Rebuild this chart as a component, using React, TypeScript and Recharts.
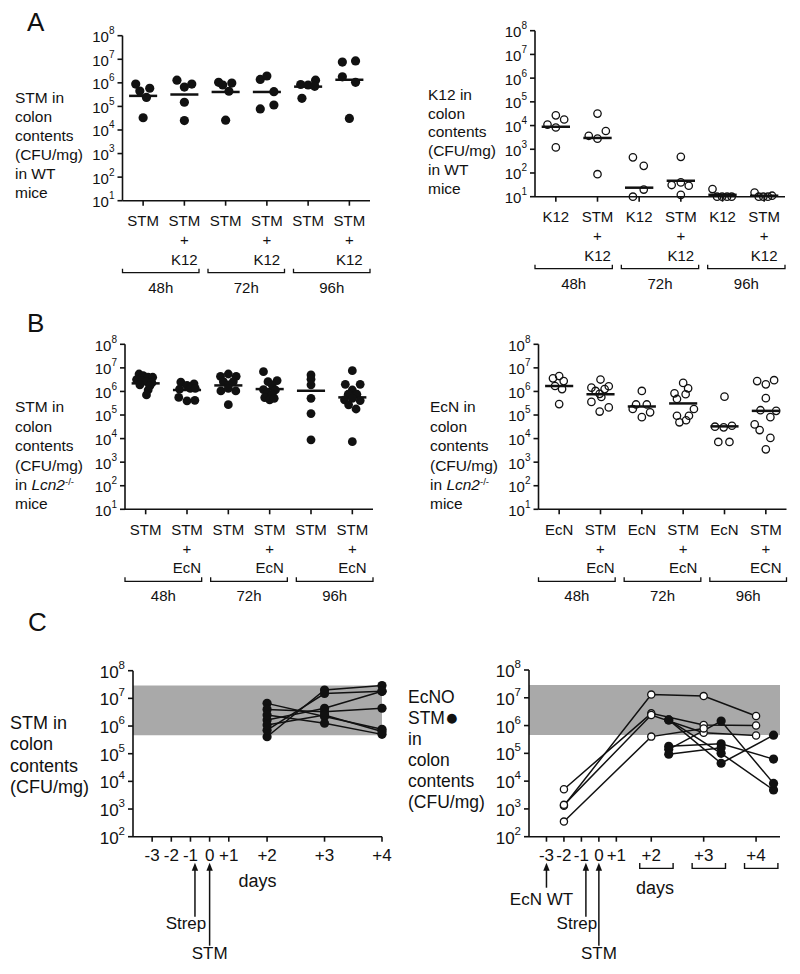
import React from 'react';
import { ScatterChart, Scatter, XAxis, YAxis, ReferenceLine, ReferenceArea } from 'recharts';

const FONT = '"Liberation Sans", Arial, Helvetica, sans-serif';
const INK = '#111111';
const BAND = '#a9a9a9';

// ---------- shared axis data ----------
const decadeTicksAB = [1e1, 1e2, 1e3, 1e4, 1e5, 1e6, 1e7, 1e8];
const decadeTicksC = [1e2, 1e3, 1e4, 1e5, 1e6, 1e7, 1e8];
const timeGroups = ['48h', '72h', '96h'];

// ---------- Panel A left: STM in WT mice ----------
const stmWtLabels = [['STM'], ['STM', '+', 'K12'], ['STM'], ['STM', '+', 'K12'], ['STM'], ['STM', '+', 'K12']];
const stmWtValues = [
  [8.9e5, 4.5e5, 5.9e5, 2.4e5, 3.3e4],
  [1.3e6, 6.6e5, 8.9e5, 1.5e5, 2.5e4],
  [1.05e6, 8.1e5, 9.8e5, 4.4e5, 2.6e4],
  [1.4e6, 1.95e6, 4.2e5, 1.15e5, 7.8e4],
  [8.5e5, 8.1e5, 1.3e6, 7.1e5, 2.2e5],
  [7.6e6, 8.5e6, 1.8e6, 1.05e6, 3.1e4],
];
const stmWtSpread = [
  [-0.18, -0.08, 0.16, 0.08, 0],
  [-0.18, 0, 0.18, 0, 0],
  [-0.17, -0.07, 0.15, 0.08, 0],
  [-0.16, 0, 0.17, 0.17, -0.16],
  [-0.18, 0, 0.18, 0.16, -0.15],
  [-0.17, 0.15, -0.17, 0.15, 0],
];
const stmWtCenters = [2.8e5, 3.2e5, 4.1e5, 4.1e5, 6.9e5, 1.35e6];

// ---------- Panel A right: K12 in WT mice ----------
const k12WtLabels = [['K12'], ['STM', '+', 'K12'], ['K12'], ['STM', '+', 'K12'], ['K12'], ['STM', '+', 'K12']];
const k12WtValues = [
  [1.1e4, 2.7e4, 1.8e4, 8.3e3, 1.2e3],
  [3.2e4, 3.7e3, 5.9e3, 2.8e3, 89],
  [457, 200, 20, 10],
  [480, 31, 40, 29, 12],
  [21, 10, 10, 10, 10],
  [15, 10, 10, 10, 11],
];
const k12WtSpread = [
  [-0.2, 0, 0.2, 0, 0],
  [0, -0.21, 0.2, 0, 0],
  [-0.15, 0.11, 0.11, -0.15],
  [0, -0.22, 0, 0.19, 0],
  [-0.24, -0.13, -0.01, 0.11, 0.22],
  [-0.23, -0.13, -0.02, 0.09, 0.19],
];
const k12WtCenters = [8.9e3, 3.0e3, 24, 47, 12, 11];

// ---------- Panel B left: STM in Lcn2-/- mice ----------
const stmLcnLabels = [['STM'], ['STM', '+', 'EcN'], ['STM'], ['STM', '+', 'EcN'], ['STM'], ['STM', '+', 'EcN']];
const stmLcnValues = [
  [5.5e6, 4.7e6, 4.0e6, 4.0e6, 3.2e6, 2.75e6, 2.6e6, 2.3e6, 1.9e6, 1.7e6, 1.15e6, 7.1e5],
  [2.5e6, 2.1e6, 1.8e6, 1.26e6, 1.35e6, 1.35e6, 5.6e5, 4.0e5, 4.2e5],
  [4.4e6, 5.5e6, 4.4e6, 2.6e6, 2.6e6, 1.9e6, 1.05e6, 1.05e6, 1.35e6, 2.75e5],
  [6.9e6, 2.9e6, 2.6e6, 1.9e6, 1.2e6, 1.15e6, 8.3e5, 7.6e5, 5.5e5, 4.4e5, 5.1e5],
  [5.0e6, 3.3e6, 1.9e6, 5.1e5, 1.15e5, 8.9e3],
  [7.6e6, 2.0e6, 2.0e6, 1.15e6, 7.6e5, 7.6e5, 4.4e5, 5.1e5, 4.1e5, 2.7e5, 1.8e5, 7.4e3],
];
const stmLcnSpread = [
  [-0.16, -0.06, 0.06, 0.17, -0.22, -0.1, 0.02, 0.15, -0.14, 0.1, 0.06, 0.02],
  [-0.15, 0.17, 0, -0.18, 0.08, 0.2, -0.2, 0, 0.19],
  [-0.19, 0, 0.19, -0.12, 0.12, 0, -0.18, 0.18, 0, 0],
  [-0.15, 0.18, -0.04, 0.06, -0.15, 0.14, -0.06, 0.06, -0.12, 0, 0.11],
  [0, 0, 0, 0, 0, 0],
  [0, -0.17, 0.19, 0, -0.1, 0.11, -0.19, 0, 0.19, -0.09, 0.09, 0],
];
const stmLcnCenters = [2.2e6, 1.15e6, 1.8e6, 1.26e6, 1.07e6, 5.6e5];

// ---------- Panel B right: EcN in Lcn2-/- mice ----------
const ecnLcnLabels = [['EcN'], ['STM', '+', 'EcN'], ['EcN'], ['STM', '+', 'EcN'], ['EcN'], ['STM', '+', 'ECN']];
const ecnLcnValues = [
  [4.5e6, 3.6e6, 2.75e6, 1.7e6, 1.26e6, 2.9e5],
  [3.2e6, 1.45e6, 1.66e6, 1.05e6, 1.26e6, 7.9e5, 5.8e5, 3.6e5, 2.1e5, 1.4e5],
  [1.05e6, 2.8e5, 2.8e5, 1.8e5, 1.3e5, 8.1e4],
  [2.3e6, 1.35e6, 8.3e5, 7.6e5, 4.8e5, 1.8e5, 9.3e4, 9.3e4, 4.9e4, 6.0e4],
  [6.0e5, 3.2e4, 3.0e4, 3.5e4, 7.2e3, 7.2e3],
  [2.75e6, 2.0e6, 3.0e6, 5.2e5, 1.6e5, 1.5e5, 8.1e4, 4.0e4, 2.3e4, 1.07e4, 3.5e3],
];
const ecnLcnSpread = [
  [0, -0.15, 0.11, -0.1, 0.07, 0],
  [0, -0.22, 0.2, -0.12, 0.1, -0.02, 0.02, -0.22, 0.2, -0.02],
  [0, -0.14, 0.12, -0.22, 0.2, 0],
  [0, 0.12, -0.21, 0.06, -0.15, 0.26, -0.15, 0.14, -0.09, 0.07],
  [0, -0.23, -0.02, 0.18, -0.15, 0.12],
  [-0.21, 0, 0.2, 0, -0.13, 0.25, 0.11, -0.27, -0.15, 0.11, 0],
];
const ecnLcnCenters = [1.7e6, 7.6e5, 2.3e5, 3.1e5, 3.3e4, 1.5e5];

// ---------- Panel C ----------
const cTickDays = [-3, -2, -1, 0, 1, 2, 3, 4];
const cBand = [4.6e5, 2.9e7];
// left: STM alone, days +2, +3, +4, one row per mouse
const stmAloneDays = [2, 3, 4];
const stmAloneMice = [
  [4.1e5, 2.0e7, 2.9e7],
  [7.1e5, 1.5e7, 1.8e7],
  [6.6e6, 2.2e6, 7.6e5],
  [4.0e6, 3.3e6, 4.4e6],
  [1.66e6, 4.4e6, 1.8e7],
  [2.5e6, 1.26e6, 5.0e5],
  [1.1e6, 2.5e6, 6.3e5],
];
// right: EcN (open) and STM (filled) in co-colonised mice
const ecnCoDays = [-2, 2, 3, 4];
const ecnCoMice = [
  [1.3e3, 1.3e7, 1.15e7, 2.2e6],
  [5.1e3, 2.75e6, 1.05e6, 1.0e6],
  [1.4e3, 2.4e6, 5.5e5, 4.4e5],
  [3.5e2, 4.0e5, 7.9e5, null],
];
const stmCoDays = [2, 3, 4];
const stmCoMice = [
  [1.6e6, 1.0e5, 4.8e3],
  [1.6e6, 4.4e4, 4.5e5],
  [1.8e5, 2.2e5, 6.2e4],
  [1.4e5, 1.45e6, 8.3e3],
  [9.3e4, 1.6e5, null],
];
const cLeftEvents = [{ day: -1, text: 'Strep' }, { day: 0, text: 'STM' }];
const cRightEvents = [{ day: -3, text: 'EcN WT' }, { day: -1, text: 'Strep' }, { day: 0, text: 'STM' }];

// piecewise day axis: days -3..+1 one unit apart, then every 3 units
const dayPos = (d: number) => (d <= 1 ? d + 3 : 3 * d);
const dayLabel = (d: number) => (d > 0 ? '+' + d : String(d));

// ---------- styling helpers ----------
const eventStyle: Record<string, { end: number; ty: number; adx: number; tdx: number }> = {
  'EcN WT': { end: 51, ty: 68, adx: 0, tdx: -5 },
  Strep: { end: 80, ty: 92, adx: 4.5, tdx: -9 },
  STM: { end: 109, ty: 122, adx: 0, tdx: 0 },
};

type Geo = { left: number; top: number; w: number; h: number; pl: number; pr: number; pt: number; pb: number };
const Y_W = 60;
const marginsFor = (g: Geo, xh: number) => ({
  left: g.pl - g.left - Y_W,
  right: g.left + g.w - g.pr,
  top: g.pt - g.top,
  bottom: g.top + g.h - g.pb - xh,
});

function LogTick(props: any) {
  const { x, y, payload, fs, sfs } = props;
  const exp = Math.round(Math.log10(payload.value));
  return (
    <text x={x} y={y + 1 + fs * 0.36} textAnchor="end" fontSize={fs} fontFamily={FONT} fill={INK}>
      10
      <tspan dy={-fs * 0.53} fontSize={sfs}>
        {exp}
      </tspan>
    </text>
  );
}

function CatTick(props: any) {
  const { x, y, payload, labels, plotW } = props;
  const i = Math.round(payload.value);
  const axisY = y - 5;
  const lines: string[] = labels[i] || [];
  const offs = [25.5, 44.5, 64];
  const out = lines.map((t, k) => (
    <text key={k} x={x} y={axisY + offs[k]} textAnchor="middle" fontSize={15} fontFamily={FONT} fill={INK}>
      {t}
    </text>
  ));
  let bracket: any = null;
  if (i % 2 === 0) {
    const unit = plotW / 6;
    const left0 = x - unit * (i + 0.5);
    const gap = 9;
    const bw = (plotW - 2 * gap) / 3;
    const k = i / 2;
    const b0 = left0 + k * (bw + gap);
    const b1 = b0 + bw;
    const by = axisY + 72;
    bracket = (
      <g>
        <path d={`M${b0},${by - 4}V${by}H${b1}V${by - 4}`} fill="none" stroke={INK} strokeWidth={1.3} />
        <text x={(b0 + b1) / 2} y={axisY + 92} textAnchor="middle" fontSize={15} fontFamily={FONT} fill={INK}>
          {timeGroups[k]}
        </text>
      </g>
    );
  }
  return (
    <g>
      {out}
      {bracket}
    </g>
  );
}

function DayTick(props: any) {
  const { x, y, index, events, brackets, unitPx } = props;
  const axisY = y - 5;
  const day = cTickDays[index];
  const ev = events.find((e: any) => e.day === day);
  let evNode: any = null;
  if (ev) {
    const st = eventStyle[ev.text];
    const ax = x + st.adx;
    const tip = axisY + 26;
    evNode = (
      <g>
        <path d={`M${ax},${tip}L${ax - 3.2},${tip + 8}L${ax + 3.2},${tip + 8}Z`} fill={INK} />
        <line x1={ax} y1={tip + 6} x2={ax} y2={axisY + st.end} stroke={INK} strokeWidth={1.5} />
        <text x={ax + st.tdx} y={axisY + st.ty} textAnchor="middle" fontSize={17} fontFamily={FONT} fill={INK}>
          {ev.text}
        </text>
      </g>
    );
  }
  let br: any = null;
  if (brackets && day >= 2) {
    const b0 = x - 0.66 * unitPx;
    const b1 = x + 1.25 * unitPx;
    const by = axisY + 31.7;
    br = <path d={`M${b0},${by - 5.5}V${by}H${b1}V${by - 5.5}`} fill="none" stroke={INK} strokeWidth={1.4} />;
  }
  return (
    <g>
      <text x={x} y={axisY + 24} textAnchor="middle" fontSize={17} fontFamily={FONT} fill={INK}>
        {dayLabel(day)}
      </text>
      {evNode}
      {br}
    </g>
  );
}

const axisStroke = { stroke: INK, strokeWidth: 1.6 };

function DotPlot(props: any) {
  const { geo, values, spread, centers, labels, filled, r, sw } = props;
  const xh = 90;
  const points = (values as number[][]).flatMap((grp, g) => grp.map((v, j) => ({ x: g + spread[g][j], y: v })));
  const plotW = geo.pr - geo.pl;
  return (
    <div style={{ position: 'absolute', left: geo.left, top: geo.top }}>
      <ScatterChart width={geo.w} height={geo.h} margin={marginsFor(geo, xh)}>
        <XAxis
          type="number"
          dataKey="x"
          domain={[-0.5, 5.5]}
          ticks={[0, 1, 2, 3, 4, 5]}
          interval={0}
          height={xh}
          tickSize={5}
          tickMargin={0}
          axisLine={axisStroke}
          tickLine={axisStroke}
          tick={(p: any) => <CatTick {...p} labels={labels} plotW={plotW} />}
        />
        <YAxis
          type="number"
          dataKey="y"
          scale="log"
          domain={[10, 1e8]}
          ticks={decadeTicksAB}
          interval={0}
          width={Y_W}
          tickSize={5}
          tickMargin={3}
          axisLine={axisStroke}
          tickLine={axisStroke}
          tick={(p: any) => <LogTick {...p} fs={15} sfs={10} />}
        />
        <Scatter
          data={points}
          isAnimationActive={false}
          shape={(p: any) => (
            <circle
              cx={p.cx}
              cy={p.cy}
              r={r}
              fill={filled ? INK : 'none'}
              stroke={INK}
              strokeWidth={filled ? 0 : sw}
            />
          )}
        />
        {(centers as number[]).map((c, g) => (
          <ReferenceLine
            key={g}
            segment={[{ x: g - 0.34, y: c }, { x: g + 0.34, y: c }]}
            stroke={INK}
            strokeWidth={2.5}
            ifOverflow="visible"
          />
        ))}
      </ScatterChart>
    </div>
  );
}

function TimeCourse(props: any) {
  const { geo, domainMax, events, brackets, lineSeries, openSeries, filledSeries } = props;
  const xh = 120;
  const unitPx = (geo.pr - geo.pl) / (domainMax + 1);
  const empty = () => <g />;
  return (
    <div style={{ position: 'absolute', left: geo.left, top: geo.top }}>
      <ScatterChart width={geo.w} height={geo.h} margin={marginsFor(geo, xh)}>
        <ReferenceArea y1={cBand[0]} y2={cBand[1]} fill={BAND} fillOpacity={1} stroke="none" ifOverflow="visible" />
        <XAxis
          type="number"
          dataKey="x"
          domain={[-1, domainMax]}
          ticks={cTickDays.map(dayPos)}
          interval={0}
          height={xh}
          tickSize={5}
          tickMargin={0}
          axisLine={axisStroke}
          tickLine={axisStroke}
          tick={(p: any) => <DayTick {...p} events={events} brackets={brackets} unitPx={unitPx} />}
        />
        <YAxis
          type="number"
          dataKey="y"
          scale="log"
          domain={[100, 1e8]}
          ticks={decadeTicksC}
          interval={0}
          width={Y_W}
          tickSize={5}
          tickMargin={3}
          axisLine={axisStroke}
          tickLine={axisStroke}
          tick={(p: any) => <LogTick {...p} fs={17} sfs={11.5} />}
        />
        {lineSeries.map((s: any[], k: number) => (
          <Scatter
            key={'l' + k}
            data={s}
            isAnimationActive={false}
            line={{ stroke: INK, strokeWidth: 1.5 }}
            shape={empty}
          />
        ))}
        {openSeries.map((s: any[], k: number) => (
          <Scatter
            key={'o' + k}
            data={s}
            isAnimationActive={false}
            shape={(p: any) => <circle cx={p.cx} cy={p.cy} r={3.6} fill="#ffffff" stroke={INK} strokeWidth={1.3} />}
          />
        ))}
        {filledSeries.map((s: any[], k: number) => (
          <Scatter
            key={'f' + k}
            data={s}
            isAnimationActive={false}
            shape={(p: any) => <circle cx={p.cx} cy={p.cy} r={4.6} fill={INK} />}
          />
        ))}
      </ScatterChart>
    </div>
  );
}

function T(props: any) {
  const { x, y, s, children, center } = props;
  return (
    <div
      style={{
        position: 'absolute',
        left: x,
        top: y - s * 0.55,
        fontSize: s,
        lineHeight: `${s * 1.1}px`,
        fontFamily: FONT,
        color: INK,
        whiteSpace: 'nowrap',
        transform: center ? 'translateX(-50%)' : undefined,
      }}
    >
      {children}
    </div>
  );
}

const LCN = 'in Lcn2-/-';
const DOT = '\u25CF';
function TitleLines(props: any) {
  const { x, ys, lines, s } = props;
  return (
    <>
      {lines.map((t: string, i: number) => (
        <T key={i} x={x} y={ys[i]} s={s}>
          {t === LCN ? (
            <>
              in <i>Lcn2</i>
              <sup style={{ fontSize: '0.62em', verticalAlign: '0.55em', lineHeight: 0 }}>-/-</sup>
            </>
          ) : t.endsWith(DOT) ? (
            <>
              {t.slice(0, -1)}
              <span style={{ fontSize: '1.3em', lineHeight: 0, verticalAlign: '-0.05em' }}>{DOT}</span>
            </>
          ) : (
            t
          )}
        </T>
      ))}
    </>
  );
}

const titleWt = (org: string) => [org + ' in', 'colon', 'contents', '(CFU/mg)', 'in WT', 'mice'];
const titleLcn = (org: string) => [org + ' in', 'colon', 'contents', '(CFU/mg)', LCN, 'mice'];

export default function App() {
  const stmAloneSeries = stmAloneMice.map((m) => stmAloneDays.map((d, i) => ({ x: dayPos(d), y: m[i] })));
  const ecnSeries = ecnCoMice.map((m) =>
    ecnCoDays.map((d, i) => ({ x: dayPos(d), y: m[i] })).filter((p) => p.y != null)
  );
  const stmCoSeries = stmCoMice.map((m) =>
    stmCoDays.map((d, i) => ({ x: dayPos(d) + 1, y: m[i] })).filter((p) => p.y != null)
  );

  const gAL: Geo = { left: 0, top: 0, w: 400, h: 300, pl: 122.5, pr: 370, pt: 35.7, pb: 200.7 };
  const gAR: Geo = { left: 400, top: 0, w: 400, h: 300, pl: 535, pr: 785, pt: 30.7, pb: 196.7 };
  const gBL: Geo = { left: 0, top: 300, w: 400, h: 312, pl: 125, pr: 373, pt: 344.3, pb: 509.3 };
  const gBR: Geo = { left: 400, top: 300, w: 400, h: 312, pl: 538.5, pr: 786.5, pt: 344.3, pb: 509.3 };
  const gCL: Geo = { left: 0, top: 620, w: 400, h: 354, pl: 133, pr: 382, pt: 670.7, pb: 836.7 };
  const gCR: Geo = { left: 400, top: 620, w: 400, h: 354, pl: 529, pr: 780, pt: 670, pb: 836.7 };

  return (
    <div style={{ position: 'absolute', left: 0, top: 0, width: 800, height: 974, background: '#fff', overflow: 'hidden' }}>
      <DotPlot geo={gAL} values={stmWtValues} spread={stmWtSpread} centers={stmWtCenters} labels={stmWtLabels} filled r={4.6} />
      <DotPlot geo={gAR} values={k12WtValues} spread={k12WtSpread} centers={k12WtCenters} labels={k12WtLabels} filled={false} r={3.7} sw={1.3} />
      <DotPlot geo={gBL} values={stmLcnValues} spread={stmLcnSpread} centers={stmLcnCenters} labels={stmLcnLabels} filled r={4.4} />
      <DotPlot geo={gBR} values={ecnLcnValues} spread={ecnLcnSpread} centers={ecnLcnCenters} labels={ecnLcnLabels} filled={false} r={3.7} sw={1.3} />
      <TimeCourse
        geo={gCL}
        domainMax={12}
        events={cLeftEvents}
        brackets={false}
        lineSeries={stmAloneSeries}
        openSeries={[]}
        filledSeries={stmAloneSeries}
      />
      <TimeCourse
        geo={gCR}
        domainMax={13.37}
        events={cRightEvents}
        brackets
        lineSeries={[...ecnSeries, ...stmCoSeries]}
        openSeries={ecnSeries}
        filledSeries={stmCoSeries}
      />

      <T x={27} y={22.5} s={26}>A</T>
      <T x={27} y={323.5} s={26}>B</T>
      <T x={28} y={622.5} s={26}>C</T>

      <TitleLines x={15} ys={[98, 117, 136, 155, 174, 193]} lines={titleWt('STM')} s={15.5} />
      <TitleLines x={428} ys={[95, 113.5, 132, 151, 170, 189]} lines={titleWt('K12')} s={15.5} />
      <TitleLines x={15} ys={[407, 427, 446, 466, 485, 504]} lines={titleLcn('STM')} s={15.5} />
      <TitleLines x={430} ys={[407, 427, 446, 466, 485, 504]} lines={titleLcn('EcN')} s={15.5} />
      <TitleLines x={10} ys={[723.5, 745, 767, 788]} lines={['STM in', 'colon', 'contents', '(CFU/mg)']} s={18} />
      <TitleLines
        x={408}
        ys={[698, 719, 740, 761, 782, 803]}
        lines={['EcNO', 'STM' + DOT, 'in', 'colon', 'contents', '(CFU/mg)']}
        s={17.5}
      />
      <T x={257.5} y={882} s={18} center>days</T>
      <T x={655} y={889} s={18} center>days</T>
    </div>
  );
}
